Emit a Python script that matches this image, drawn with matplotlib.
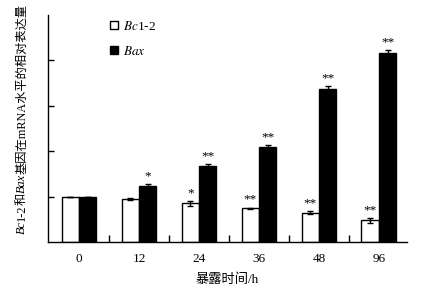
import numpy as np
import matplotlib
matplotlib.use("Agg")
import matplotlib.pyplot as plt

plt.rcParams['font.family'] = ['Liberation Serif', 'Noto Sans CJK SC']
plt.rcParams['mathtext.fontset'] = 'stix'

# 数据
times = ['0', '12', '24', '36', '48', '96']
bcl2 = [1.00, 0.94, 0.85, 0.74, 0.65, 0.48]
bcl2_err = [0.0, 0.02, 0.05, 0.02, 0.04, 0.05]
bax = [1.00, 1.23, 1.67, 2.09, 3.36, 4.16]
bax_err = [0.0, 0.04, 0.05, 0.05, 0.07, 0.07]
bcl2_sig = ['', '', '*', '**', '**', '**']
bax_sig = ['', '*', '**', '**', '**', '**']

x = np.arange(len(times))
w = 0.29

fig = plt.figure(figsize=(4.24, 2.92), dpi=100)
ax = fig.add_axes([0.113, 0.171, 0.847, 0.778])

ax.bar(x - w / 2, bcl2, w, yerr=bcl2_err, color='white', edgecolor='black',
       linewidth=1, capsize=2.5, error_kw=dict(elinewidth=1, capthick=1),
       label=r'$\mathit{Bc}$1-2')
ax.bar(x + w / 2, bax, w, yerr=bax_err, color='black', edgecolor='black',
       linewidth=1, capsize=2.5, error_kw=dict(elinewidth=1, capthick=1),
       label=r'$\mathit{Bax}$')

for i in range(len(times)):
    if bcl2_sig[i]:
        ax.text(x[i] - w / 2, bcl2[i] + bcl2_err[i] + 0.04, bcl2_sig[i],
                ha='center', va='bottom', fontsize=9.5)
    if bax_sig[i]:
        ax.text(x[i] + w / 2, bax[i] + bax_err[i] + 0.04, bax_sig[i],
                ha='center', va='bottom', fontsize=9.5)

ax.set_xlim(-0.52, 5.47)
ax.set_ylim(0, 5)
ax.set_yticks([1, 2, 3, 4])
ax.set_yticklabels([])
ax.tick_params(axis='y', direction='in', length=4, width=1)
ax.set_xticks(x)
ax.set_xticklabels(times, fontsize=9.5)
ax.tick_params(axis='x', length=0, pad=8)
ax.set_xticks(x[:-1] + 0.5, minor=True)
ax.tick_params(axis='x', which='minor', direction='in', length=5, width=1)

for s in ['top', 'right']:
    ax.spines[s].set_visible(False)
ax.spines['left'].set_linewidth(1)
ax.spines['bottom'].set_linewidth(1)

ax.set_xlabel('暴露时间/h', fontsize=9.5, labelpad=6)

# y轴标题: 斜体基因名, 分段拼接
pieces = [('Bc', 'italic'), ('1-2', 'normal'), ('和', 'normal'),
          ('Bax', 'italic'), ('基因在mRNA水平的相对表达量', 'normal')]
renderer = fig.canvas.get_renderer()
texts = []
for s, st in pieces:
    t = fig.text(0, 0, s, rotation=90, fontsize=8.8, style=st,
                 ha='center', va='bottom')
    texts.append(t)
heights = [t.get_window_extent(renderer).height for t in texts]
total = sum(heights)
ypix = 292 - 119 - total / 2
for t, h in zip(texts, heights):
    t.set_position((22 / 424, ypix / 292))
    ypix += h

ax.legend(loc='upper left', bbox_to_anchor=(0.14, 1.03), frameon=False,
          fontsize=9.5, handlelength=0.6, handleheight=0.6, handletextpad=0.35,
          labelspacing=0.9)

fig.savefig('out.png', dpi=100)
